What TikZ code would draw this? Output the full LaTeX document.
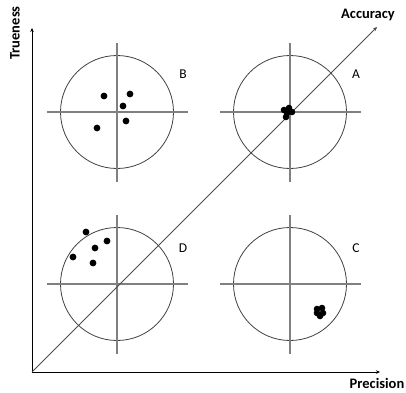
\documentclass[tikz,border=0pt]{standalone}
\usepackage{fontspec}
\setmainfont{Carlito}
\usetikzlibrary{arrows.meta}
\begin{document}
\begin{tikzpicture}[x=1pt,y=-1pt,
  target/.style={circle,draw=black!75,line width=0.8pt,minimum size=113pt,inner sep=0pt},
  cross/.style={draw=black!50,line width=1.1pt},
  axis/.style={draw=black,line width=0.8pt,-{Stealth[length=4pt,width=3.5pt]}},
  diag/.style={draw=black!70,line width=0.8pt,-{Stealth[length=4pt,width=3.5pt]}},
  dot/.style={fill=black},
  lab/.style={font=\fontsize{13.5}{13.5}\selectfont,inner sep=0pt},
  axlab/.style={font=\bfseries\fontsize{14.5}{14.5}\selectfont,inner sep=0pt}]
\useasboundingbox (0,0) rectangle (406,392);
% targets
\node[target] (B) at (117,112) {};
\node[target] (A) at (290,112) {};
\node[target] (D) at (117,284) {};
\node[target] (C) at (290,284) {};
\foreach \t in {A,B,C,D}{
  \draw[cross] (\t.center) +(-70,0) -- +(71,0);
  \draw[cross] (\t.center) +(0,-69) -- +(0,70);
}
% axes
\coordinate (O) at (32,372);
\coordinate (Ytip) at (32,28);
\coordinate (Xtip) at (380,372);
\coordinate (Acctip) at (377,27);
\draw[axis] (O) -- (Ytip);
\draw[axis] (O) -- (Xtip);
\draw[diag] (O) -- (Acctip);
% labels
\node[lab] (lB) at (183,74) {B};
\node[lab] (lA) at (356,74) {A};
\node[lab] (lD) at (183,248) {D};
\node[lab] (lC) at (356,248) {C};
\node[axlab] (acc) at (368,15) {Accuracy};
\node[axlab] (prec) at (377,383) {Precision};
\node[axlab,rotate=90] (true) at (15,33) {Trueness};
% dots B
\foreach \p in {(104,96),(130,94),(123,106),(126,121),(97,128)}
  \fill[dot] \p circle (3.4);
% dots D
\foreach \p in {(86,232),(107,241),(95,248),(73,257),(93,263)}
  \fill[dot] \p circle (3.4);
% cluster A
\foreach \p in {(284,110),(289,108),(292,112),(287,113),(286,117)}
  \fill[dot] \p circle (3.3);
% cluster C
\foreach \p in {(317,309),(322,308),(323,313),(317,313),(320,316)}
  \fill[dot] \p circle (3.3);
\end{tikzpicture}
\end{document}
